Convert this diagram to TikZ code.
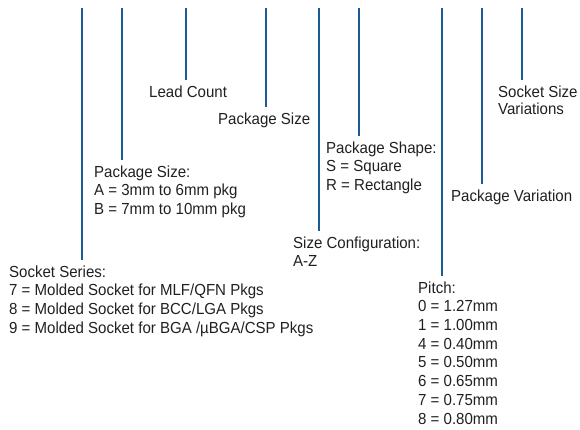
\documentclass[tikz,border=0pt]{standalone}
\usepackage{fontspec}
\setmainfont{Liberation Sans}[FakeStretch=0.94]
\definecolor{codeblue}{HTML}{1A5A96}
\definecolor{inkgray}{HTML}{231F20}
\usetikzlibrary{positioning}

\begin{document}
\begin{tikzpicture}[x=1pt,y=-1pt,
  field/.style={anchor=north west,align=left,inner xsep=0pt,inner ysep=5.3pt,
    text=inkgray,font=\fontsize{16}{18.7}\selectfont},
  tick/.style={codeblue,line width=2.6pt}]
  \useasboundingbox (0,0) rectangle (580,429);
  % top ends of the code ticks
  \coordinate (series top) at (82,8);
  \coordinate (pkgsize top) at (122,8);
  \coordinate (leads top) at (186,8);
  \coordinate (bodysize top) at (266,8);
  \coordinate (config top) at (319,8);
  \coordinate (shape top) at (359,8);
  \coordinate (pitch top) at (442,8);
  \coordinate (variation top) at (482,8);
  \coordinate (sizevar top) at (522,8);
  % field labels
  \node[field] (series) at (9,260) {Socket Series:\\
    7 = Molded Socket for MLF/QFN Pkgs\\
    8 = Molded Socket for BCC/LGA Pkgs\\
    9 = Molded Socket for BGA /µBGA/CSP Pkgs};
  \node[field] (pkgsize) at (94,160) {Package Size:\\
    A = 3mm to 6mm pkg\\
    B = 7mm to 10mm pkg};
  \node[field] (leads) at (149,80) {Lead Count};
  \node[field] (bodysize) at (218,107) {Package Size};
  \node[field] (config) at (293,231) {Size Configuration:\\A-Z};
  \node[field] (shape) at (326,136) {Package Shape:\\S = Square\\R = Rectangle};
  \node[field] (pitch) at (418,276) {Pitch:\\0 = 1.27mm\\1 = 1.00mm\\4 = 0.40mm\\
    5 = 0.50mm\\6 = 0.65mm\\7 = 0.75mm\\8 = 0.80mm};
  \node[field] (variation) at (451,184) {Package Variation};
  \node[field,font=\fontsize{16}{17}\selectfont] (sizevar) at (498,80) {Socket Size\\Variations};
  % ticks down to each label
  \draw[tick] (series top) -- (series top |- series.north);
  \draw[tick] (pkgsize top) -- (pkgsize top |- pkgsize.north);
  \draw[tick] (leads top) -- (leads top |- leads.north);
  \draw[tick] (bodysize top) -- (bodysize top |- bodysize.north);
  \draw[tick] (config top) -- (config top |- config.north);
  \draw[tick] (shape top) -- (shape top |- shape.north);
  \draw[tick] (pitch top) -- (pitch top |- pitch.north);
  \draw[tick] (variation top) -- (variation top |- variation.north);
  \draw[tick] (sizevar top) -- (sizevar top |- sizevar.north);
\end{tikzpicture}
\end{document}
